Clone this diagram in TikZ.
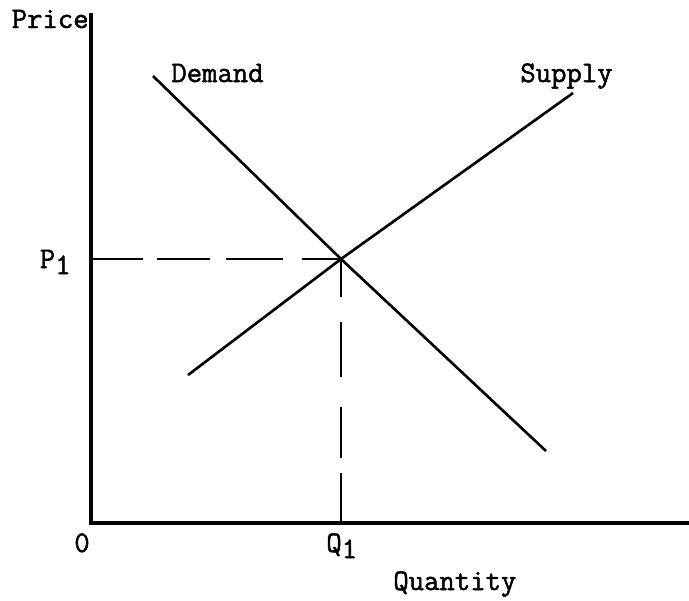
\documentclass[tikz,border=0pt]{standalone}
\usepackage{fontspec}
\newfontfamily\typer[AutoFakeBold=1.6]{Latin Modern Mono}
\usepackage{tikz}
\usetikzlibrary{positioning,calc}

\begin{document}
\begin{tikzpicture}[x=0.02cm,y=-0.02cm,
    axis/.style={line width=1.8pt},
    curve/.style={line width=1.5pt},
    guide/.style={line width=1.5pt},
    lbl/.style={inner sep=0pt,font=\typer\bfseries\fontsize{17}{19}\selectfont}]
  \useasboundingbox (0,0) rectangle (689,600);
  % axes
  \coordinate (origin) at (91,523);
  \coordinate (ytop) at (91,13);
  \coordinate (xend) at (689,523);
  \draw[axis] (ytop) -- (origin) -- (xend);
  % equilibrium and its projections
  \coordinate (eq) at (341,259);
  \coordinate (peq) at (91,259);
  \coordinate (qeq) at (341,523);
  \draw[guide,dash pattern=on 1.04cm off 0.28cm on 1.06cm off 0.32cm on 1.14cm off 0.38cm on 1cm]
    (peq) -- (eq);
  \draw[guide,dash pattern=on 0.76cm off 0.5cm on 1.1cm off 0.6cm on 1.02cm off 0.3cm on 1cm]
    (eq) -- (qeq);
  % demand and supply
  \coordinate (dtop) at (153,76);
  \coordinate (dbot) at (546,451);
  \coordinate (sbot) at (188,375);
  \coordinate (stop) at (573,93);
  \draw[curve] (dtop) -- (eq) -- (dbot);
  \draw[curve] (sbot) -- (eq) -- (stop);
  % labels
  \node[lbl,anchor=base east] (price) at (89,28) {Price};
  \node[lbl,anchor=base west] (demand) at (171,82) {Demand};
  \node[lbl,anchor=base west] (supply) at (520,82) {Supply};
  \node[lbl,anchor=base east] (p1) at (71,268) {P\raisebox{-3.5pt}{1}};
  \node[lbl,anchor=base] (zero) at (82,552) {0};
  \node[lbl,anchor=base west] (q1) at (326,552) {Q\raisebox{-3.5pt}{1}};
  \node[lbl,anchor=base west] (quantity) at (393,590) {Quantity};
\end{tikzpicture}
\end{document}
